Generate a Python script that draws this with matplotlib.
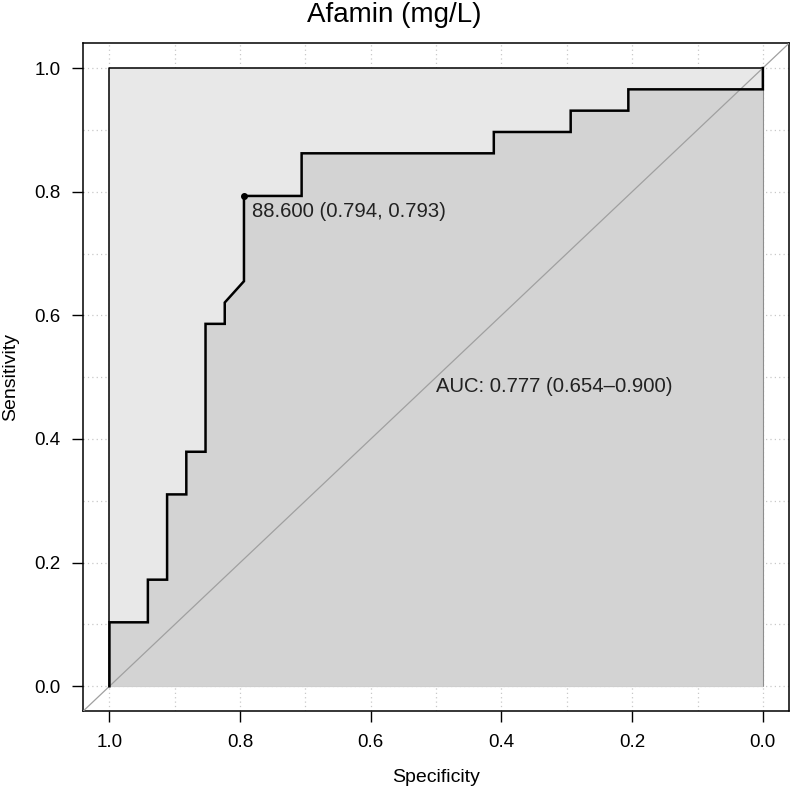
import matplotlib
matplotlib.use("Agg")
import matplotlib.pyplot as plt
import numpy as np

plt.rcParams['font.family'] = ['Liberation Sans', 'DejaVu Sans']

# ROC curve data (specificity, sensitivity)
specificity = [1.0, 1.0, 32/34, 32/34, 31/34, 31/34, 30/34, 30/34, 29/34, 29/34,
               28/34, 28/34, 27/34, 27/34, 24/34, 24/34, 14/34, 14/34,
               10/34, 10/34, 7/34, 7/34, 0.0, 0.0]
sensitivity = [0.0, 3/29, 3/29, 5/29, 5/29, 9/29, 9/29, 11/29, 11/29, 17/29,
               17/29, 18/29, 19/29, 23/29, 23/29, 25/29, 25/29, 26/29,
               26/29, 27/29, 27/29, 28/29, 28/29, 1.0]

best_threshold = 88.600
best_spec = 0.794
best_sens = 0.793
auc_text = "AUC: 0.777 (0.654\u20130.900)"
title = "Afamin (mg/L)"
tick_vals = [0.0, 0.2, 0.4, 0.6, 0.8, 1.0]
tick_labels = ["0.0", "0.2", "0.4", "0.6", "0.8", "1.0"]

W, H = 794, 790
fig = plt.figure(figsize=(W / 100, H / 100), dpi=100)
left, right, top, bottom = 83.3, 789.0, 43.3, 711.0
ax = fig.add_axes([left / W, 1 - bottom / H, (right - left) / W, (bottom - top) / H])

ax.set_xlim(1.04, -0.04)
ax.set_ylim(-0.04, 1.04)

# grid
for g in np.arange(0, 1.01, 0.1):
    ax.axvline(g, color='#c8c8c8', lw=0.9, ls=(0, (1, 2.5)), zorder=0)
    ax.axhline(g, color='#c8c8c8', lw=0.9, ls=(0, (1, 2.5)), zorder=0)

# max auc polygon
ax.fill([1, 1, 0, 0], [0, 1, 1, 0], color='#e8e8e8', zorder=1)
ax.plot([1, 1, 0, 0, 1], [0, 1, 1, 0, 0], color='black', lw=1.1, zorder=2)

# auc polygon
px = list(specificity) + [0.0, 1.0]
py = list(sensitivity) + [0.0, 0.0]
ax.fill(px, py, color='#d3d3d3', zorder=2)

# diagonal
ax.plot([1.04, -0.04], [-0.04, 1.04], color='#a0a0a0', lw=0.9, zorder=3)

# roc curve
ax.plot(specificity, sensitivity, color='black', lw=1.8, zorder=4,
        solid_joinstyle='miter')

# best threshold
ax.plot([best_spec], [best_sens], 'o', color='black', ms=4, zorder=5)
ax.annotate(f"{best_threshold:.3f} ({best_spec:.3f}, {best_sens:.3f})",
            xy=(best_spec, best_sens), xytext=(6, -4), textcoords='offset points',
            ha='left', va='top', fontsize=14.6, color='#222222', zorder=6)

ax.text(0.5, 0.5, auc_text, ha='left', va='top', fontsize=14.6, color='#222222', zorder=6)

ax.set_xticks(tick_vals)
ax.set_xticklabels(tick_labels)
ax.set_yticks(tick_vals)
ax.set_yticklabels(tick_labels)
ax.tick_params(axis='both', direction='out', length=8, width=1.0, labelsize=13.5,
               colors='black', pad=8.5)
for s in ax.spines.values():
    s.set_linewidth(1.1)

fig.text(436.5 / W, 1 - 777 / H, "Specificity", ha='center', va='center', fontsize=14)
fig.text(11 / W, 1 - 377 / H, "Sensitivity", ha='center', va='center',
         rotation=90, fontsize=14)
fig.text(394 / W, 1 - 15 / H, title, ha='center', va='center', fontsize=20)

fig.savefig("out.png", dpi=100)
